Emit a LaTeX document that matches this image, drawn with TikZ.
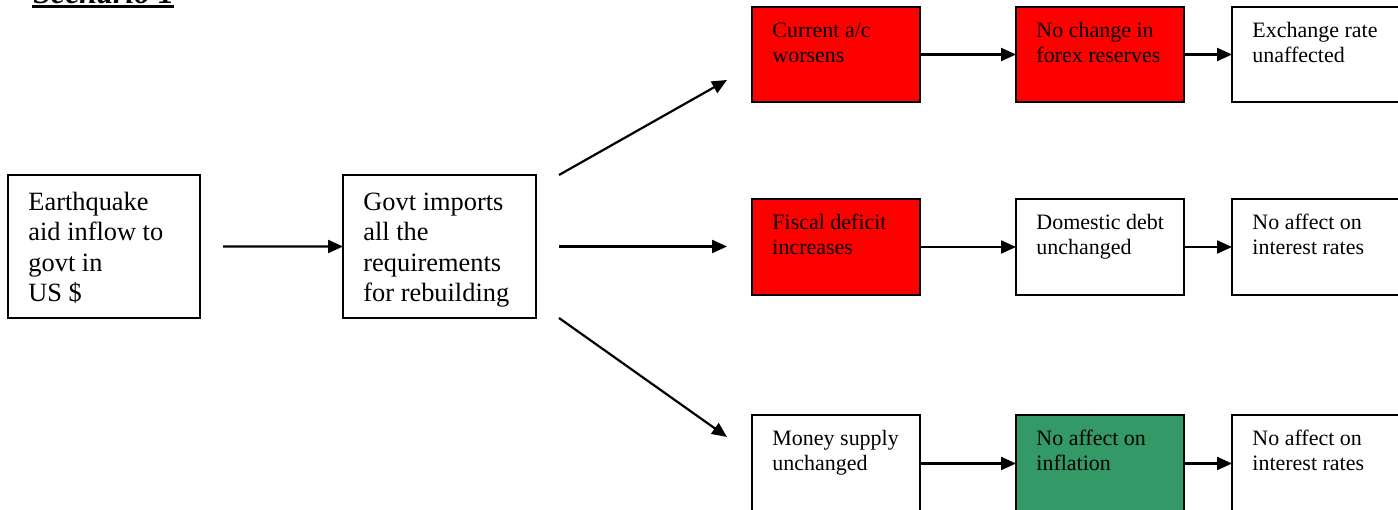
\documentclass[tikz,border=0pt]{standalone}
\usepackage{fontspec}
\setmainfont{Liberation Serif}
\usetikzlibrary{arrows.meta,fit}
\definecolor{boxred}{HTML}{FF0000}
\definecolor{boxgreen}{HTML}{339966}
\begin{document}
\begin{tikzpicture}[x=0.455pt,y=-0.455pt,
  box/.style={draw=black,line width=1pt,inner sep=0pt,outer sep=0pt},
  redbox/.style={box,fill=boxred},
  greenbox/.style={box,fill=boxgreen},
  bigtxt/.style={anchor=north west,inner sep=0pt,align=left,font=\fontsize{12}{13.8}\selectfont},
  smalltxt/.style={anchor=north west,inner sep=0pt,align=left,font=\fontsize{10}{11.5}\selectfont},
  arr/.style={line width=1pt,-{Triangle[length=6.8pt,width=5.9pt]}},
]
\useasboundingbox (0,0) rectangle (1398,510);
\clip (0,0) rectangle (1398,510);

% title (cut off at top)
\node[anchor=base west,inner sep=0pt,font=\fontsize{14.5}{17}\selectfont\bfseries\itshape] (title) at (33,4) {Scenario 1};
\draw[line width=1.4pt] (32,6.8) -- (174,6.8);

% left boxes
\node[box,fit={(8,175) (200,318)}] (a) {};
\node[bigtxt] (ta) at (28,189) {\strut Earthquake\\aid inflow to\\govt in\\US \$};
\node[box,fit={(343,175) (536,318)}] (b) {};
\node[bigtxt] (tb) at (363,189) {\strut Govt imports\\all the\\requirements\\for rebuilding};

% right column boxes
\node[redbox,fit={(752,7) (920,102)}] (r1c1) {};
\node[smalltxt] (t11) at (772,19) {\strut Current a/c\\worsens};
\node[redbox,fit={(1016,7) (1184,102)}] (r1c2) {};
\node[smalltxt] (t12) at (1036,19) {\strut No change in\\forex reserves};
\node[box,fit={(1232,7) (1400,102)}] (r1c3) {};
\node[smalltxt] (t13) at (1252,19) {\strut Exchange rate\\unaffected};

\node[redbox,fit={(752,199) (920,295)}] (r2c1) {};
\node[smalltxt] (t21) at (772,211) {\strut Fiscal deficit\\increases};
\node[box,fit={(1016,199) (1184,295)}] (r2c2) {};
\node[smalltxt] (t22) at (1036,211) {\strut Domestic debt\\unchanged};
\node[box,fit={(1232,199) (1400,295)}] (r2c3) {};
\node[smalltxt] (t23) at (1252,211) {\strut No affect on\\interest rates};

\node[box,fit={(752,415) (920,512)}] (r3c1) {};
\node[smalltxt] (t31) at (772,427) {\strut Money supply\\unchanged};
\node[greenbox,fit={(1016,415) (1184,512)}] (r3c2) {};
\node[smalltxt] (t32) at (1036,427) {\strut No affect on\\inflation};
\node[box,fit={(1232,415) (1400,512)}] (r3c3) {};
\node[smalltxt] (t33) at (1252,427) {\strut No affect on\\interest rates};

% connectors
\coordinate (s0) at (223,246.5);
\draw[arr] (s0) -- (b.west);

\coordinate (s1) at (559,175);
\coordinate (e1) at (727,80);
\coordinate (s2) at (559,246.5);
\coordinate (e2) at (727,246.5);
\coordinate (s3) at (559,318);
\coordinate (e3) at (727,437);
\draw[arr] (s1) -- (e1);
\draw[arr] (s2) -- (e2);
\draw[arr] (s3) -- (e3);

\draw[arr] (r1c1.east) -- (r1c2.west);
\draw[arr] (r1c2.east) -- (r1c3.west);
\draw[arr] (r2c1.east) -- (r2c2.west);
\draw[arr] (r2c2.east) -- (r2c3.west);
\draw[arr] (r3c1.east) -- (r3c2.west);
\draw[arr] (r3c2.east) -- (r3c3.west);
\end{tikzpicture}
\end{document}
